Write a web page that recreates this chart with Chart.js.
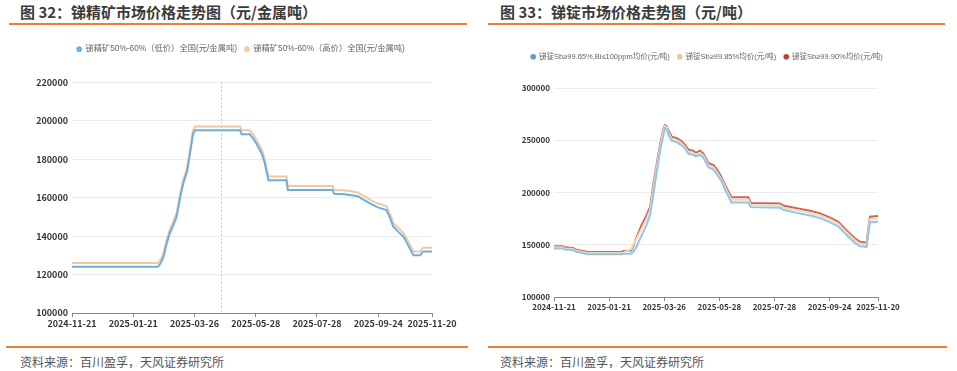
<!DOCTYPE html>
<html>
<head>
<meta charset="utf-8">
<script src="https://cdn.jsdelivr.net/npm/chart.js@4.4.0/dist/chart.umd.min.js"></script>
<style>
    body { margin: 0; width: 957px; height: 371px; background: #fff; position: relative; overflow: hidden;
           font-family: "Noto Sans CJK SC", "Noto Sans", sans-serif; }
    .title { position: absolute; top: 1px; font-size: 15px; font-weight: bold; color: #3a3a3a; white-space: nowrap; }
    .rule { position: absolute; height: 2px; background: #ED7D31; }
    .src { position: absolute; top: 353px; font-size: 12px; color: #555; white-space: nowrap; }
    .box { position: absolute; }
</style>
</head>
<body>
<div class="title" style="left:20px">图 32：锑精矿市场价格走势图（元/金属吨）</div>
<div class="rule" style="left:9px; top:23px; width:458px"></div>
<div class="box" style="left:0; top:37px; width:480px; height:298px"><canvas id="oreChart"></canvas></div>
<div class="rule" style="left:6px; top:346px; width:462px; height:1.5px"></div>
<div class="src" style="left:20px">资料来源：百川盈孚，天风证券研究所</div>

<div class="title" style="left:500px">图 33：锑锭市场价格走势图（元/吨）</div>
<div class="rule" style="left:488px; top:23px; width:457px"></div>
<div class="box" style="left:480px; top:45px; width:477px; height:274px"><canvas id="ingotChart"></canvas></div>
<div class="rule" style="left:488px; top:346px; width:459px; height:1.5px"></div>
<div class="src" style="left:500px">资料来源：百川盈孚，天风证券研究所</div>

<script>
// x axis = trading-day index, labels only at these positions
const tickIdx = [0, 41, 82, 123, 164, 205, 241];
const tickLabels = ["2024-11-21", "2025-01-21", "2025-03-26", "2025-05-28", "2025-07-28", "2025-09-24", "2025-11-20"];

// 锑精矿 (figure 32)
const oreIdx = [0, 57.5, 59, 61, 63.5, 65.5, 68, 70, 72.5, 74.5, 77, 79, 81, 82.5, 112.5, 113.5, 119, 121.5, 123.5, 127,
                129, 131.5, 143.5, 144.5, 174.5, 175.5, 182.5, 191.5, 195, 199.5, 204, 207.5, 210.5, 213, 215, 218.5,
                222, 225, 228.5, 233, 235, 241];
const oreLow = [124000, 124000, 125500, 128500, 136500, 141500, 146000, 150000, 160500, 167500, 173500, 183000, 193000, 195000, 195000, 193000, 193000, 190500, 188000, 183000,
                178000, 169000, 169000, 164000, 164000, 162000, 161800, 160700, 159000, 157000, 155200, 154300, 153500, 149200, 145000, 142200,
                139600, 135300, 130000, 130000, 132000, 132000];
const oreHigh = [126000, 126000, 127500, 130500, 138500, 143500, 148000, 152000, 162500, 169500, 175500, 185000, 195000, 197000, 197000, 195000, 195000, 192500, 190000, 185000,
                 180000, 171000, 171000, 166000, 166000, 164000, 163800, 162700, 161000, 159000, 157200, 156300, 155500, 151200, 147000, 144200,
                 141600, 137300, 132000, 132000, 134000, 134000];
const oreGuideIdx = 100; // hover crosshair in the source picture

// 锑锭 (figure 33)
const ingotIdx = [0, 6.5, 8, 14, 17, 22, 24.5, 50.5, 51.5, 57.5, 59, 61.5, 65, 69, 71.5, 74, 76.5, 79, 81.5, 82.5,
                  84, 85, 87.5, 91.5, 95, 97.5, 100, 103.5, 105.5, 108.5, 111, 115, 118.5, 121, 124.5, 128.5, 132, 144.5, 146.5, 168,
                  170.5, 180.5, 190.5, 198, 205.5, 211.5, 217.5, 224, 227.5, 232.5, 235, 241];
const ingot9965 = [146500, 146500, 145500, 145000, 143000, 142000, 141000, 141000, 141500, 141500, 143000, 148500, 158500, 169500, 178500, 199000, 220500, 240500, 256000, 261500,
                   260000, 255500, 249500, 248000, 245000, 242000, 237000, 236000, 234500, 236000, 233500, 224000, 222000, 218000, 211000, 199500, 190500, 190500, 186000, 185500,
                   183500, 180500, 178000, 175500, 171500, 167500, 159500, 151500, 148500, 148000, 171500, 172000];
const ingot9985 = [147500, 147500, 146500, 146000, 144000, 143000, 142000, 142000, 142500, 146000, 150500, 156000, 165000, 175000, 183500, 205000, 225000, 244500, 259500, 263500,
                   262000, 257500, 251500, 250000, 247000, 243500, 239000, 238000, 236000, 238000, 235500, 226000, 224000, 220000, 213000, 202000, 193000, 193000, 188000, 187500,
                   185500, 183000, 180500, 178000, 174000, 170000, 162000, 154000, 151000, 150000, 174500, 175000];
const ingot9990 = [148500, 148500, 147500, 147000, 145000, 144000, 143000, 143000, 144000, 144500, 149000, 157500, 168500, 178500, 186500, 209000, 228000, 247000, 261500, 264500,
                   263000, 259500, 253500, 252000, 249000, 245500, 241000, 240000, 238000, 240000, 237500, 228000, 226500, 222500, 215000, 204000, 195500, 195500, 190000, 189500,
                   187500, 185000, 182500, 180000, 176000, 172000, 164000, 156000, 153000, 152000, 176800, 177400];

const FONT = "'Noto Sans CJK SC', 'Noto Sans', sans-serif";
const LEGEND_FONT = "'Liberation Sans', 'Noto Sans CJK SC', sans-serif";

/**
 * Pair an index array with a value array for a linear x axis
 */
function toPoints(xs, ys) {
    return xs.map((x, i) => ({ x: x, y: ys[i] }));
}

/**
 * Builds one of the two price charts
 */
function makeChart(id, datasets, opts) {
    const ctx = document.getElementById(id).getContext("2d");

    // extra gap under the legend, room to keep it on one row, and a horizontal nudge
    const legendTweak = {
        id: "legendTweak",
        beforeInit(chart) {
            const fit = chart.legend.fit;
            chart.legend.fit = function () {
                this.maxWidth += opts.padRight;
                fit.bind(chart.legend)();
                this.height += opts.legendGap;
            };
        },
        afterLayout(chart) {
            chart.legend.left += opts.legendShift;
            chart.legend.right += opts.legendShift;
        },
    };

    // dashed vertical guide line
    const guideLine = {
        id: "guideLine",
        afterDatasetsDraw(chart) {
            if (opts.guideIdx == null) return;
            const x = chart.scales.x.getPixelForValue(opts.guideIdx);
            const c = chart.ctx;
            c.save();
            c.strokeStyle = "#c8c8c8";
            c.lineWidth = 1;
            c.setLineDash([2, 2]);
            c.beginPath();
            c.moveTo(Math.round(x) + 0.5, chart.chartArea.top);
            c.lineTo(Math.round(x) + 0.5, chart.chartArea.bottom);
            c.stroke();
            c.restore();
        },
    };

    return new Chart(ctx, {
        type: "line",
        data: { datasets: datasets },
        plugins: [legendTweak, guideLine],
        options: {
            responsive: true,
            maintainAspectRatio: false,
            animation: false,
            layout: { padding: { left: 0, right: opts.padRight, top: 0, bottom: 0 } },
            elements: { point: { radius: 0 }, line: { borderWidth: 2, tension: 0 } },
            plugins: {
                tooltip: { enabled: false },
                legend: {
                    position: "top",
                    labels: {
                        usePointStyle: true,
                        pointStyle: "circle",
                        boxWidth: 4,
                        boxHeight: 4,
                        padding: 8,
                        color: "#666",
                        font: { family: LEGEND_FONT, size: opts.legendFont },
                        generateLabels: function (chart) {
                            return Chart.defaults.plugins.legend.labels.generateLabels(chart)
                                .map(l => Object.assign(l, { lineWidth: 0 }));
                        },
                    },
                },
            },
            scales: {
                x: {
                    type: "linear",
                    min: 0,
                    max: tickIdx[tickIdx.length - 1],
                    afterBuildTicks: function (scale) {
                        scale.ticks = tickIdx.map(v => ({ value: v }));
                    },
                    afterFit: function (scale) { scale.height = 22; },
                    ticks: {
                        autoSkip: false,
                        maxRotation: 0,
                        padding: 1,
                        color: "#333",
                        font: { family: FONT, size: opts.tickFont, weight: "bold" },
                        callback: function (value) {
                            const i = tickIdx.indexOf(value);
                            return i >= 0 ? tickLabels[i] : "";
                        },
                    },
                    grid: { drawOnChartArea: false, drawTicks: true, tickLength: 4, color: "#888" },
                    border: { display: true, color: "#888", width: 1 },
                },
                y: {
                    min: opts.yMin,
                    max: opts.yMax,
                    afterFit: function (scale) { scale.width = opts.yWidth; },
                    ticks: {
                        stepSize: opts.yStep,
                        padding: 4,
                        color: "#333",
                        font: { family: FONT, size: opts.tickFont, weight: "bold" },
                        callback: function (value) { return String(value); },
                    },
                    grid: { color: "#ebebeb", drawTicks: false },
                    border: { display: false },
                },
            },
        },
    });
}

document.addEventListener("DOMContentLoaded", function () {
    makeChart("oreChart", [
        {
            label: "锑精矿50%-60%（低价）全国(元/金属吨)",
            data: toPoints(oreIdx, oreLow),
            borderColor: "#6aaee2",
            backgroundColor: "#6aaee2",
        },
        {
            label: "锑精矿50%-60%（高价）全国(元/金属吨)",
            data: toPoints(oreIdx, oreHigh),
            borderColor: "#f2c99c",
            backgroundColor: "#f2c99c",
        },
    ], {
        yMin: 100000, yMax: 220000, yStep: 20000, yWidth: 72,
        padRight: 48, legendGap: 19, legendShift: 25, legendFont: 8.3, tickFont: 9,
        guideIdx: oreGuideIdx,
    });

    makeChart("ingotChart", [
        {
            label: "锑锭Sb≥99.65%,Bi≤100ppm均价(元/吨)",
            data: toPoints(ingotIdx, ingot9965),
            borderColor: "#8ec6ee",
            backgroundColor: "#5b9bd5",
        },
        {
            label: "锑锭Sb≥99.85%均价(元/吨)",
            data: toPoints(ingotIdx, ingot9985),
            borderColor: "#f3dcb4",
            backgroundColor: "#e9c98f",
        },
        {
            label: "锑锭Sb≥99.90%均价(元/吨)",
            data: toPoints(ingotIdx, ingot9990),
            borderColor: "#c9665e",
            backgroundColor: "#b8413a",
        },
    ], {
        yMin: 100000, yMax: 300000, yStep: 50000, yWidth: 74,
        padRight: 79, legendGap: 17.5, legendShift: 28, legendFont: 7.5, tickFont: 8,
        guideIdx: null,
    });
});
</script>
</body>
</html>
